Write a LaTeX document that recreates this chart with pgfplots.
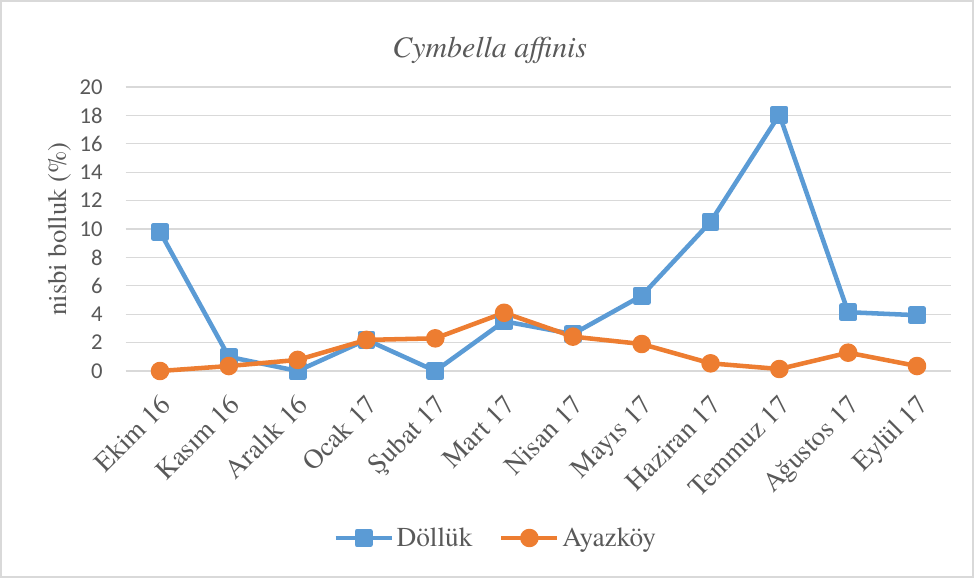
\documentclass[border=0pt]{standalone}
\usepackage{fontspec}
\setmainfont{texgyretermes}[Extension=.otf, UprightFont=*-regular, ItalicFont=*-italic,
  BoldFont=*-bold, BoldItalicFont=*-bolditalic]
\newfontfamily\calibri{Carlito}
\usepackage{pgfplots}
\pgfplotsset{compat=1.18}
\definecolor{dblue}{HTML}{5B9BD5}
\definecolor{dorange}{HTML}{ED7D31}
\definecolor{txtgray}{HTML}{595959}
\definecolor{gridgray}{HTML}{D9D9D9}

\begin{document}
\begin{tikzpicture}
\path[use as bounding box] (0,0) rectangle (730.5pt,433.5pt);
\draw[gridgray, line width=1.2pt] (0.6pt,0.6pt) rectangle (729.9pt,432.9pt);
\begin{axis}[
    at={(94.2pt,155.25pt)}, anchor=south west,
    scale only axis,
    width=619.35pt, height=213pt,
    xmin=-0.5, xmax=11.5, ymin=0, ymax=20,
    clip=false,
    axis line style={draw=none},
    major tick length=0pt,
    xtick={0,...,11},
    xticklabels={Ekim 16, Kasım 16, Aralık 16, Ocak 17, Şubat 17, Mart 17,
                 Nisan 17, Mayıs 17, Haziran 17, Temmuz 17, Ağustos 17, Eylül 17},
    % shifts first, so they act on the page and not along the rotated text
    xticklabel style={xshift=-1pt, yshift=-17pt, rotate=45, anchor=north east, inner sep=0pt,
                      font=\fontsize{20.5}{23}\selectfont, text=txtgray},
    ytick={0,2,...,20},
    yticklabel style={inner sep=0pt, xshift=-17pt, font=\calibri\fontsize{17}{20}\selectfont, text=txtgray},
    /pgf/number format/assume math mode=true,
    ymajorgrids,
    grid style={gridgray, line width=1pt},
    title={\textit{Cymbella affinis}},
    title style={at={(axis description cs:0.441,1.077)}, anchor=base,
                 font=\fontsize{22.4}{25}\selectfont, text=txtgray},
    ylabel={nisbi bolluk (\%)},
    every axis y label/.style={at={(axis description cs:-0.0794,0.5)}, rotate=90, anchor=center,
                 font=\fontsize{20}{23}\selectfont, text=txtgray},
    legend style={at={(axis description cs:0.4485,-0.588)}, anchor=center,
                  draw=none, fill=none, legend columns=2,
                  font=\fontsize{20.5}{23}\selectfont, text=txtgray,
                  /tikz/every even column/.append style={column sep=18pt}},
    legend image code/.code={
        \draw[mark repeat=2, mark phase=2] plot coordinates {(0pt,0pt) (21pt,0pt) (42pt,0pt)};
    },
]
\addplot[dblue, line width=3.4pt, mark=square*, mark size=5pt, line join=round] coordinates {
    (0,9.8) (1,1.0) (2,0) (3,2.2) (4,0) (5,3.5)
    (6,2.6) (7,5.3) (8,10.5) (9,18.05) (10,4.14) (11,3.93)
};
\addlegendentry{Döllük}
\addplot[dorange, line width=3.4pt, mark=*, mark size=5.25pt, line join=round] coordinates {
    (0,0) (1,0.35) (2,0.78) (3,2.19) (4,2.3) (5,4.1)
    (6,2.42) (7,1.9) (8,0.54) (9,0.14) (10,1.29) (11,0.35)
};
\addlegendentry{Ayazköy}
\end{axis}
\end{tikzpicture}
\end{document}
